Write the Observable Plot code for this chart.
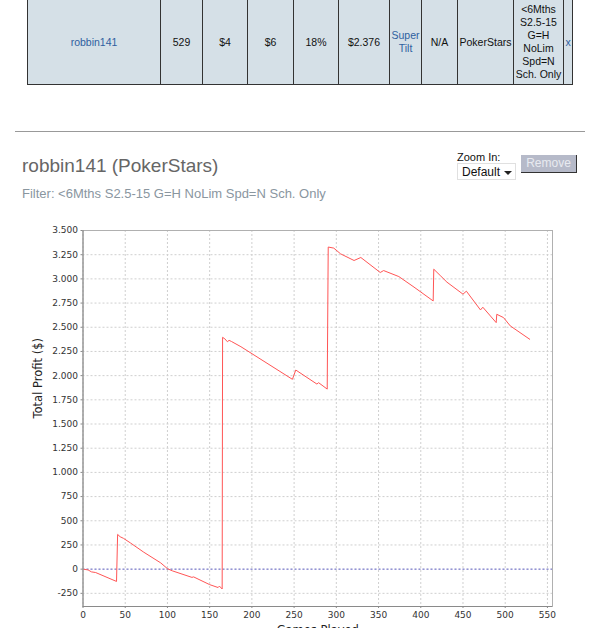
<!DOCTYPE html>
<html><head><meta charset="utf-8">
<script src="https://cdn.jsdelivr.net/npm/d3@7"></script>
<script src="https://cdn.jsdelivr.net/npm/@observablehq/plot@0.6"></script>
<style>
html,body{margin:0;padding:0;background:#fff;}
body{width:589px;height:628px;overflow:hidden;position:relative;font-family:"Liberation Sans",Arial,sans-serif;}
#tbl{position:absolute;left:27px;top:-1px;border-collapse:collapse;table-layout:fixed;width:546px;background:#d5e0e7;font-size:10.5px;color:#111;}
#tbl td{border:1px solid #333;text-align:center;vertical-align:middle;padding:0;height:84px;line-height:12.9px;overflow:hidden;}
#tbl td.lnk{color:#2f5f9f;}
#rule{position:absolute;left:15px;top:131px;width:570px;height:1px;background:#999;}
#title{position:absolute;left:22px;top:156px;font-size:19px;line-height:19px;color:#666;white-space:nowrap;}
#sub{position:absolute;left:22px;top:187px;font-size:13px;line-height:13px;color:#8a969f;white-space:nowrap;}
#zl{position:absolute;left:457px;top:151px;font-size:11px;line-height:12px;color:#111;}
#sel{position:absolute;left:457px;top:163px;width:57px;height:15px;border:1px solid #e0e0e0;background:#fff;font-size:12px;line-height:15px;color:#111;}
#sel span{position:absolute;left:4px;top:1px;}
#sel i{position:absolute;left:46px;top:7px;width:0;height:0;border-left:4px solid transparent;border-right:4px solid transparent;border-top:4px solid #222;}
#btn{position:absolute;left:521px;top:155px;width:55px;height:17px;background:#b6bac9;border-right:1px solid #333;border-bottom:1px solid #333;color:#e8eaf0;font-size:12px;line-height:17px;text-align:center;}
#chart{position:absolute;left:0;top:215px;}
</style></head>
<body>
<table id="tbl"><colgroup id="cols"></colgroup><tr id="row"></tr></table>
<div id="rule"></div>
<div id="title">robbin141 (PokerStars)</div>
<div id="sub">Filter: &lt;6Mths S2.5-15 G=H NoLim Spd=N Sch. Only</div>
<div id="zl">Zoom In:</div>
<div id="sel"><span>Default</span><i></i></div>
<div id="btn">Remove</div>
<div id="chart"></div>
<script>
// table row
const rowCells = ["robbin141", "529", "$4", "$6", "18%", "$2.376", "Super\nTilt", "N/A", "PokerStars", "<6Mths\nS2.5-15\nG=H\nNoLim\nSpd=N\nSch. Only", "x"];
const linkCells = [0, 6, 10];
const colWidths = [133, 42, 45, 46, 45, 51, 32, 36, 56, 50, 9];

// chart data
const games = [0, 6, 10, 15, 39.7, 41, 44, 48, 56, 72, 92, 100, 106, 129, 131, 150, 160, 161.5, 164.8, 165.3, 168, 171, 173, 176, 187, 248, 252, 277, 279, 289.2, 290.4, 297, 305, 321, 329, 352, 356, 374, 392, 414.7, 415.4, 423, 431, 450, 454, 470.7, 473.5, 489.3, 490, 498, 506, 529];
const profit = [0, -8, -28, -35, -127, 359, 335, 318, 272, 175, 65, 5, -18, -85, -80, -160, -190, -175, -205, 2396, 2380, 2350, 2365, 2352, 2299, 1962, 2058, 1913, 1927, 1861, 3329, 3318, 3259, 3190, 3221, 3066, 3086, 3024, 2915, 2772, 3100, 3035, 2966, 2842, 2873, 2679, 2707, 2548, 2634, 2600, 2514, 2376];
const xTicks = [0, 50, 100, 150, 200, 250, 300, 350, 400, 450, 500, 550];
const yTicks = [-250, 0, 250, 500, 750, 1000, 1250, 1500, 1750, 2000, 2250, 2500, 2750, 3000, 3250, 3500];
const xLabel = "Games Played";
const yLabel = "Total Profit ($)";

const cols = document.getElementById("cols");
colWidths.forEach(w => { const c = document.createElement("col"); c.style.width = w + "px"; cols.appendChild(c); });
const row = document.getElementById("row");
rowCells.forEach((t, i) => {
  const td = document.createElement("td");
  if (linkCells.includes(i)) td.className = "lnk";
  t.split("\n").forEach((line, j) => { if (j) td.appendChild(document.createElement("br")); td.appendChild(document.createTextNode(line)); });
  row.appendChild(td);
});

const data = games.map((g, i) => ({g, p: profit[i]}));
const loc = d3.formatLocale({decimal: ",", thousands: ".", grouping: [3], currency: ["$", ""], minus: "-"});
const fmt = loc.format(",d");
const yMin = -386;

const chart = Plot.plot({
  width: 589, height: 430,
  marginLeft: 82.5, marginRight: 37, marginTop: 15, marginBottom: 39,
  style: {fontFamily: "DejaVu Sans", fontSize: "9px", color: "#444", background: "transparent", overflow: "visible"},
  x: {domain: [0, 556]},
  y: {domain: [yMin, 3500]},
  marks: [
    Plot.gridX(xTicks, {stroke: "#cfcfcf", strokeOpacity: 1, strokeDasharray: "2,2"}),
    Plot.gridY(yTicks, {stroke: "#cfcfcf", strokeOpacity: 1, strokeDasharray: "2,2"}),
    Plot.ruleY([0], {stroke: "#6b6bd0", strokeDasharray: "2,2"}),
    Plot.line(data, {x: "g", y: "p", stroke: "#ff5555", strokeWidth: 1}),
    Plot.frame({stroke: "#b0b0b0"}),
    Plot.ruleX([0], {stroke: "#8a8a8a"}),
    Plot.ruleY([yMin], {stroke: "#8a8a8a"}),
    Plot.axisX(xTicks, {tickSize: 2, tickPadding: 3, tickFormat: d => String(d), label: null, stroke: "#8a8a8a", fill: "#333"}),
    Plot.axisY(yTicks, {tickSize: 2, tickPadding: 3, tickFormat: fmt, label: null, stroke: "#8a8a8a", fill: "#333"}),
    Plot.text([yLabel], {text: d => d, frameAnchor: "left", dx: -44.5, rotate: -90, fontSize: 11.5, fill: "#222"}),
    Plot.text([xLabel], {text: d => d, frameAnchor: "bottom", lineAnchor: "top", dy: 19, fontSize: 11.5, fill: "#222"})
  ]
});
document.getElementById("chart").appendChild(chart);
</script>
</body></html>
